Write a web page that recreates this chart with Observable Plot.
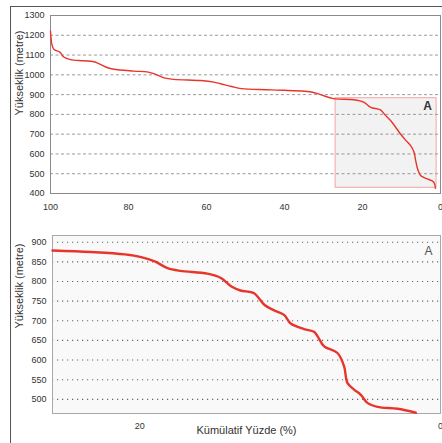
<!DOCTYPE html>
<html><head><meta charset="utf-8">
<script src="https://cdn.jsdelivr.net/npm/d3@7"></script>
<script src="https://cdn.jsdelivr.net/npm/@observablehq/plot@0.6"></script>
<style>
body{margin:0;background:#fff;}
#wrap{position:relative;width:442px;height:443px;overflow:hidden;}
#frame{position:absolute;left:10px;top:6px;width:440px;height:440px;border-left:1.5px solid #555;border-top:1.5px solid #555;}
#top,#bot{position:absolute;left:0;}
#top{top:0}
#bot{top:215px}
svg{font-family:"Liberation Sans",Arial,sans-serif;}
</style></head><body>
<div id="wrap"><div id="frame"></div><div id="top"></div><div id="bot"></div></div>
<script>
// ---- data ----
const yLabel = "Yükseklik (metre)";
const xLabel = "Kümülatif Yüzde (%)";

const topXTicks = [100, 80, 60, 40, 20, 0];
const topYTicks = [400, 500, 600, 700, 800, 900, 1000, 1100, 1200, 1300];
const topGrid = [500, 600, 700, 800, 900, 1000, 1100, 1200];

const topPct  = [100, 99.6, 99.1, 97.6, 96.6, 94.9, 91.5, 88.9, 87.6, 85.5, 83.8, 78.6, 75.2, 73.5, 70.9, 68.4, 61.5, 58.1, 56.4, 53.6, 51.0, 43.3, 33.1, 30.8, 27.4, 22.2, 19.7, 17.9, 15.4, 14.1, 12.8, 11.5, 10.3, 9.0, 7.7, 6.8, 6.4, 6.0, 5.6, 5.1, 4.2, 3.4, 1.7, 1.3];
const topElev = [1222, 1150, 1128, 1115, 1090, 1077, 1071, 1066, 1057, 1037, 1028, 1019, 1015, 1006, 985, 977, 971, 963, 955, 941, 930, 924, 913, 900, 880, 874, 862, 836, 823, 795, 769, 735, 702, 671, 643, 610, 570, 533, 510, 491, 480, 474, 457, 426];

const boxLabel = ["A"];
const boxX = [26.9, 1.0];
const boxY = [429, 882];
const boxLabelPos = [3.3, 840];

const botXTicks = [20, 0];
const botYTicks = [500, 550, 600, 650, 700, 750, 800, 850, 900];
const botDomainX = [25.8, 0];
const botDomainY = [464, 917];
const botLabelPos = [0.8, 876];

const botPct  = [25.8, 23.25, 21.0, 19.9, 19.0, 18.15, 17.3, 15.5, 14.6, 13.9, 13.3, 12.4, 11.7, 11.1, 10.4, 9.96, 9.07, 8.41, 8.18, 7.74, 6.85, 6.41, 6.19, 5.75, 5.31, 4.86, 4.19, 2.86, 1.64];
const botElev = [879, 875, 869, 862, 851, 834, 827, 820, 809, 787, 777, 770, 740, 727, 715, 693, 679, 672, 661, 635, 618, 584, 542, 525, 512, 491, 481, 476, 466];

// ---- tables ----
const topData = topPct.map((p, i) => ({p, e: topElev[i]}));
const botData = botPct.map((p, i) => ({p, e: botElev[i]}));
const boxA = [{x1: boxX[0], x2: boxX[1], y1: boxY[0], y2: boxY[1]}];

const font = "Liberation Sans, Arial, sans-serif";
const fmt = d => String(d);

const topChart = Plot.plot({
  width: 442, height: 215,
  marginLeft: 50, marginRight: 2, marginTop: 15, marginBottom: 22,
  style: {fontFamily: font, fontSize: "9px", color: "#333", background: "transparent", overflow: "visible"},
  x: {domain: [100, 0]},
  y: {domain: [400, 1300]},
  marks: [
    Plot.rect(boxA, {x1: "x1", x2: "x2", y1: "y1", y2: "y2", fill: "#f2f2f2", stroke: "#f5a3a3", strokeWidth: 1}),
    Plot.ruleY(topGrid, {stroke: "#9a9a9a", strokeDasharray: "3,2.5", strokeWidth: 1}),
    Plot.frame({stroke: "#8a8a8a"}),
    Plot.line(topData, {x: "p", y: "e", stroke: "#e8352c", strokeWidth: 1.4, curve: "catmull-rom"}),
    Plot.text(boxLabel, {x: () => boxLabelPos[0], y: () => boxLabelPos[1], text: d => d, fontSize: 12, fontWeight: "bold", fill: "#333"}),
    Plot.axisX(topXTicks, {tickSize: 0, tickPadding: 10, label: null, fill: "#333", tickFormat: fmt}),
    Plot.axisY(topYTicks, {tickSize: 0, tickPadding: 6, label: null, fill: "#333", tickFormat: fmt}),
    Plot.text([yLabel], {frameAnchor: "left", rotate: -90, dx: -31, dy: 11, fontSize: 11, fill: "#333"})
  ]
});
document.getElementById("top").appendChild(topChart);

const botChart = Plot.plot({
  width: 442, height: 228,
  marginLeft: 52, marginRight: 2, marginTop: 20, marginBottom: 30,
  style: {fontFamily: font, fontSize: "9px", color: "#333", background: "transparent", overflow: "visible"},
  x: {domain: botDomainX},
  y: {domain: botDomainY},
  marks: [
    Plot.frame({fill: "#f9f9f9", stroke: "none"}),
    Plot.ruleY(botYTicks, {stroke: "#666", strokeDasharray: "1.2,3.8", strokeWidth: 1.1}),
    Plot.frame({stroke: "#a8a8a8"}),
    Plot.line(botData, {x: "p", y: "e", stroke: "#e8352c", strokeWidth: 2.4, curve: "catmull-rom"}),
    Plot.text(boxLabel, {x: () => botLabelPos[0], y: () => botLabelPos[1], text: d => d, fontSize: 12, fill: "#555"}),
    Plot.axisX(botXTicks, {tickSize: 0, tickPadding: 9, label: null, fill: "#333", tickFormat: fmt}),
    Plot.axisY(botYTicks, {tickSize: 0, tickPadding: 6, label: null, fill: "#333", tickFormat: fmt}),
    Plot.text([yLabel], {frameAnchor: "left", rotate: -90, dx: -33, dy: 4, fontSize: 11, fill: "#333"}),
    Plot.text([xLabel], {frameAnchor: "bottom", dy: 20, fontSize: 11, fill: "#333"})
  ]
});
document.getElementById("bot").appendChild(botChart);
</script>
</body></html>
